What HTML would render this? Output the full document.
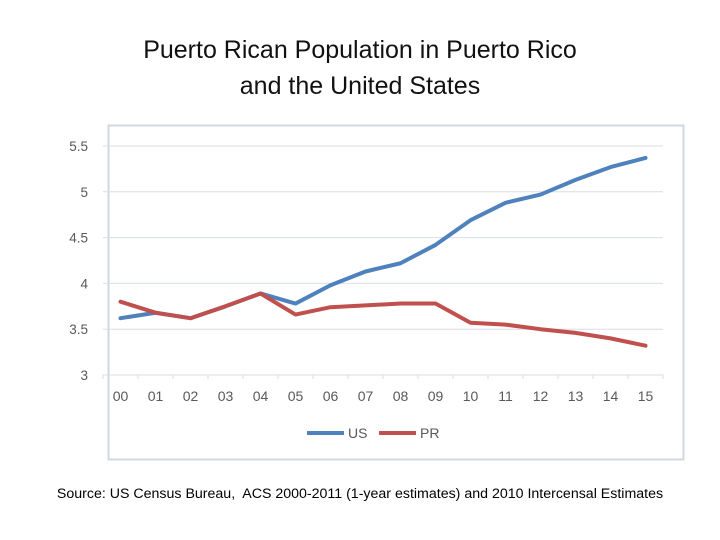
<!DOCTYPE html>
<html><head><meta charset="utf-8"><style>
body{margin:0;background:#fff;width:720px;height:540px;overflow:hidden;font-family:"Liberation Sans",sans-serif}
#t{position:absolute;left:0;width:720px;top:32px;text-align:center;font-size:25px;line-height:36px;color:#111}
#s{position:absolute;left:0;width:720px;top:486px;text-align:center;font-size:14.2px;color:#000}
</style></head><body>
<div id="t">Puerto Rican Population in Puerto Rico<br>and the United States</div>
<svg id="c" width="720" height="540" style="position:absolute;left:0;top:0"></svg>
<div id="s">Source: US Census Bureau,&nbsp; ACS 2000-2011 (1-year estimates) and 2010 Intercensal Estimates</div>
<script>
const categories=["00","01","02","03","04","05","06","07","08","09","10","11","12","13","14","15"];
const usValues=[3.62,3.68,3.62,3.75,3.89,3.78,3.98,4.13,4.22,4.42,4.69,4.88,4.97,5.13,5.27,5.37];
const prValues=[3.80,3.68,3.62,3.75,3.89,3.66,3.74,3.76,3.78,3.78,3.57,3.55,3.50,3.46,3.40,3.32];
const yTicks=[3,3.5,4,4.5,5,5.5];
const yTickLabels=["3","3.5","4","4.5","5","5.5"];
const NS="http://www.w3.org/2000/svg",svg=document.getElementById('c');
const x0=103,x1=663,yTop=146,yBot=375,yMin=3,yMax=5.5;
const step=(x1-x0)/categories.length;
const xs=i=>x0+step*(i+0.5);
const ys=v=>yBot-(v-yMin)/(yMax-yMin)*(yBot-yTop);
function mk(t,a){const e=document.createElementNS(NS,t);for(const k in a)e.setAttribute(k,a[k]);svg.appendChild(e);return e;}
let e=mk('rect',{x:108.5,y:125.5,width:575,height:334,fill:'none',stroke:'#d0d7e0','stroke-width':2});


yTicks.forEach((v,i)=>{
 if(i>0){let g=mk('line',{x1:x0,x2:x1,y1:ys(v),y2:ys(v),stroke:'#d9dee6','stroke-width':1});
 
 }
 let t=mk('text',{x:88,y:ys(v)+5,'text-anchor':'end','font-size':13.5,fill:'#595959'});t.textContent=yTickLabels[i];
 
 
});
let ax=mk('line',{x1:x0,x2:x1,y1:yBot,y2:yBot,stroke:'#d9dee6','stroke-width':1});


for(let i=0;i<=categories.length;i++){let tk=mk('line',{x1:x0+step*i,x2:x0+step*i,y1:yBot,y2:yBot+4,stroke:'#d9dee6'});
 
 }
categories.forEach((c,i)=>{let t=mk('text',{x:xs(i),y:401,'text-anchor':'middle','font-size':14,fill:'#595959'});t.textContent=c;
 
 });
function line(vals,col,name){let p=mk('polyline',{points:vals.map((v,i)=>xs(i)+','+ys(v)).join(' '),fill:'none',stroke:col,'stroke-width':4,'stroke-linejoin':'round','stroke-linecap':'round'});
 
 }
line(usValues,'#4f81bd','us-line');
line(prValues,'#c0504d','pr-line');
[['US','#4f81bd',307,348],['PR','#c0504d',379,420]].forEach(([n,c,lx,tx])=>{
 let l=mk('line',{x1:lx,x2:lx+37,y1:433,y2:433,stroke:c,'stroke-width':4});
 
 
 let t=mk('text',{x:tx,y:438,'font-size':14,fill:'#595959'});t.textContent=n;
 
 
});
</script>
</body></html>
